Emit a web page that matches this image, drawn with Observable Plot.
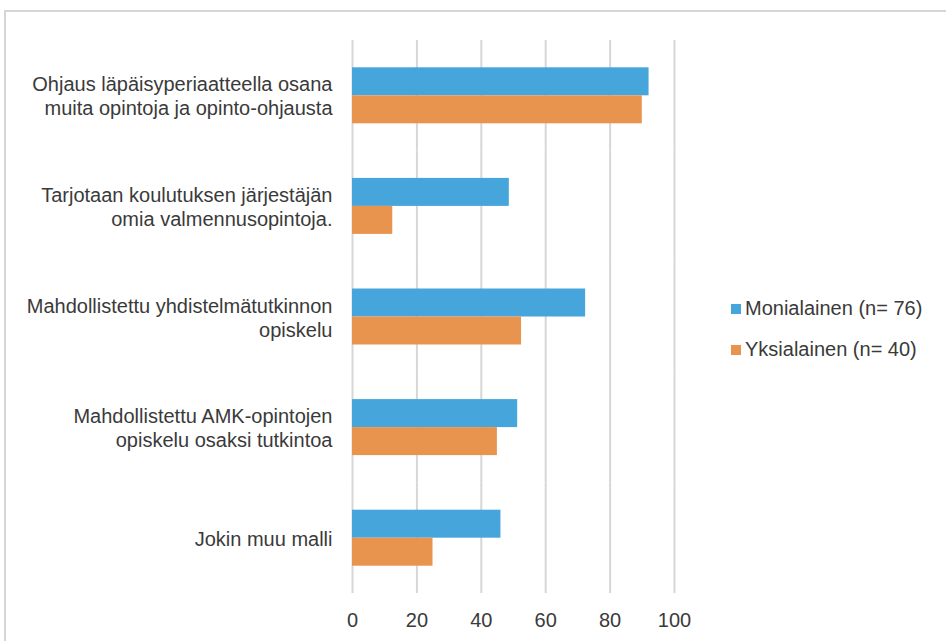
<!DOCTYPE html>
<html>
<head>
<meta charset="utf-8">
<script src="https://cdn.jsdelivr.net/npm/d3@7"></script>
<script src="https://cdn.jsdelivr.net/npm/@observablehq/plot@0.6"></script>
<style>
  html, body { margin: 0; padding: 0; background: #fff; overflow: hidden; width: 946px; height: 641px; }
  body { position: relative; font-family: Arial, "Liberation Sans", sans-serif; color: #3a3a3a; }
  #frame { position: absolute; left: 4px; top: 10px; width: 1000px; height: 700px; border: 2px solid #d6d6d6; box-sizing: border-box; }
  #chart { position: absolute; left: 0; top: 0; }
  #legend { position: absolute; left: 731px; top: 288px; font-size: 20px; line-height: 41px; }
  .item { display: flex; align-items: center; white-space: nowrap; }
  .sw { width: 10px; height: 10px; margin-right: 4px; display: inline-block; }
</style>
</head>
<body>
<div id="frame"></div>
<div id="chart"></div>
<div id="legend"></div>
<script>
const categories = [
  "Ohjaus läpäisyperiaatteella osana\nmuita opintoja ja opinto-ohjausta",
  "Tarjotaan koulutuksen järjestäjän\nomia valmennusopintoja.",
  "Mahdollistettu yhdistelmätutkinnon\nopiskelu",
  "Mahdollistettu AMK-opintojen\nopiskelu osaksi tutkintoa",
  "Jokin muu malli"
];
const seriesNames = ["Monialainen (n= 76)", "Yksialainen (n= 40)"];
const monialainen = [92.1, 48.7, 72.4, 51.3, 46.1];
const yksialainen = [90.0, 12.5, 52.5, 45.0, 25.0];
const xTicks = [0, 20, 40, 60, 80, 100];
const colors = ["#46a5db", "#e8944f"];

const data = [];
categories.forEach((c, i) => {
  data.push({category: c, series: seriesNames[0], value: monialainen[i]});
  data.push({category: c, series: seriesNames[1], value: yksialainen[i]});
});

const chart = Plot.plot({
  width: 946,
  height: 641,
  marginTop: 40,
  marginBottom: 48,
  marginLeft: 352,
  marginRight: 272,
  style: {fontFamily: "Arial, 'Liberation Sans', sans-serif", fontSize: "20px", color: "#3a3a3a", background: "transparent"},
  x: {domain: [0, 100], axis: null},
  y: {domain: seriesNames, axis: null, paddingInner: 0, paddingOuter: 0.975, round: false},
  fy: {domain: categories, padding: 0, axis: null, round: false},
  color: {domain: seriesNames, range: colors},
  marks: [
    Plot.gridX(xTicks, {stroke: "#d6d6d6", strokeOpacity: 1, strokeWidth: 2}),
    Plot.barX(data, {fy: "category", y: "series", x: "value", fill: "series", insetTop: 0, insetBottom: 0}),
    Plot.axisX(xTicks, {tickSize: 0, tickPadding: 19, fontSize: 20, label: null, fill: "#3a3a3a"}),
    Plot.axisFy({anchor: "left", tickSize: 0, tickPadding: 20, fontSize: 20, lineHeight: 1.2, label: null, fill: "#3a3a3a"})
  ]
});
document.getElementById("chart").appendChild(chart);

const legend = document.getElementById("legend");
seriesNames.forEach((s, i) => {
  const row = document.createElement("div");
  row.className = "item";
  const sw = document.createElement("span");
  sw.className = "sw";
  sw.style.background = colors[i];
  row.appendChild(sw);
  row.appendChild(document.createTextNode(s));
  legend.appendChild(row);
});
</script>
</body>
</html>
